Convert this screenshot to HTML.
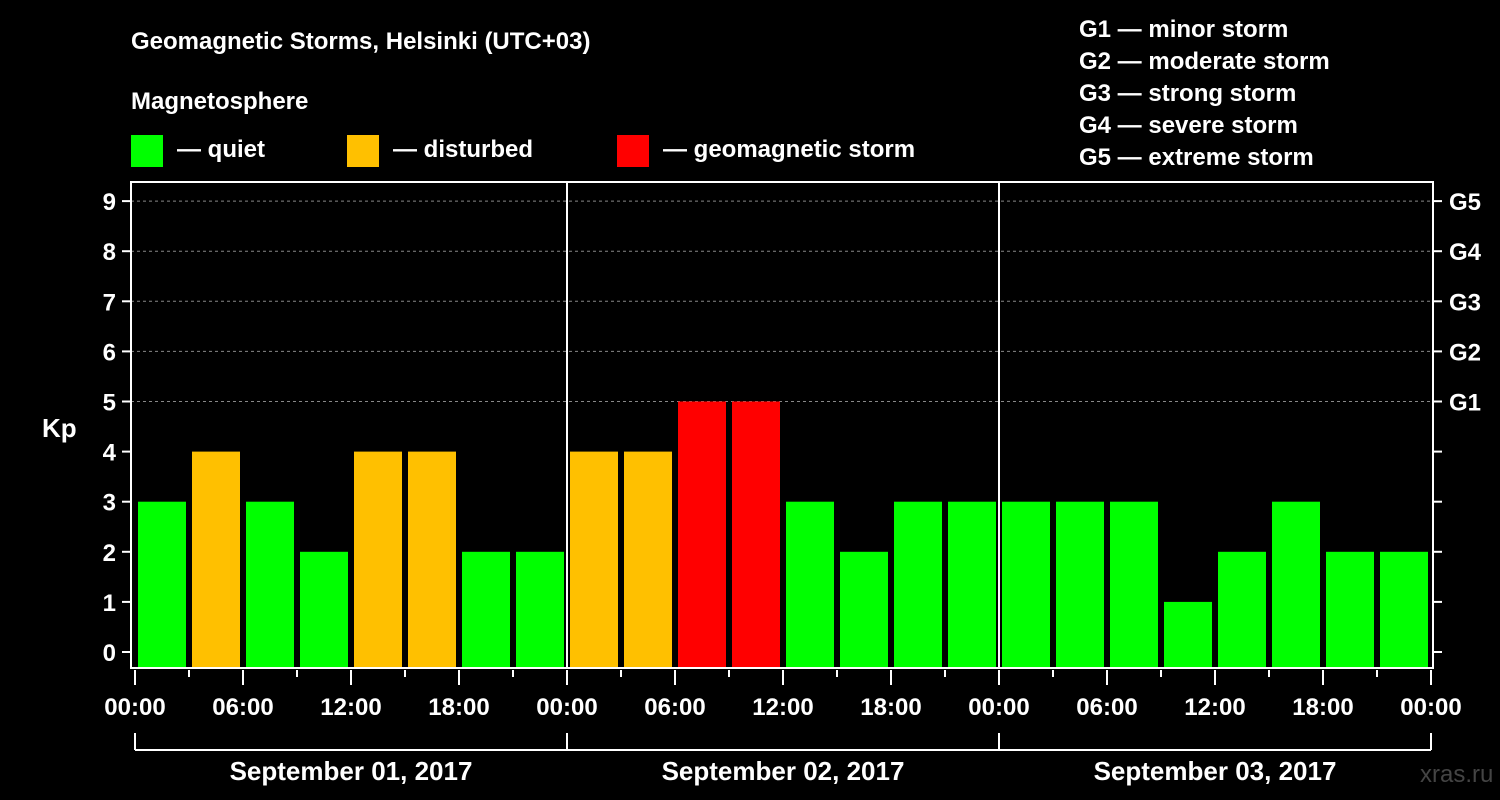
<!DOCTYPE html>
<html><head><meta charset="utf-8"><style>
html,body{margin:0;padding:0;background:#000;}
svg{display:block;font-family:"Liberation Sans",Arial,sans-serif;font-weight:bold;}
</style></head><body>
<svg id="chart" width="1500" height="800" viewBox="0 0 1500 800">
<rect width="1500" height="800" fill="#000"/>
<text x="131" y="49" fill="#fff" font-size="24">Geomagnetic Storms, Helsinki (UTC+03)</text>
<text x="131" y="109" fill="#fff" font-size="24">Magnetosphere</text>
<g><rect x="131" y="135" width="32" height="32" fill="#00ff00"/><text x="177" y="157" fill="#fff" font-size="24">— quiet</text></g>
<g><rect x="347" y="135" width="32" height="32" fill="#ffc000"/><text x="393" y="157" fill="#fff" font-size="24">— disturbed</text></g>
<g><rect x="617" y="135" width="32" height="32" fill="#ff0000"/><text x="663" y="157" fill="#fff" font-size="24">— geomagnetic storm</text></g>
<g fill="#fff" font-size="24">
<text x="1079" y="37">G1 — minor storm</text>
<text x="1079" y="69">G2 — moderate storm</text>
<text x="1079" y="101">G3 — strong storm</text>
<text x="1079" y="133">G4 — severe storm</text>
<text x="1079" y="165">G5 — extreme storm</text>
</g>
<text x="42" y="437" fill="#fff" font-size="26">Kp</text>
<text x="1420" y="782" fill="#444" font-size="24" font-weight="normal">xras.ru</text>
<g id="plot"></g>
</svg>
<script>
const values = [3,4,3,2,4,4,2,2, 4,4,5,5,3,2,3,3, 3,3,3,1,2,3,2,2];
const yTicks = [0,1,2,3,4,5,6,7,8,9];
const gLabels = ["G1","G2","G3","G4","G5"];
const gLevels = [5,6,7,8,9];
const timeLabels = ["00:00","06:00","12:00","18:00"];
const dayLabels = ["September 01, 2017","September 02, 2017","September 03, 2017"];

const NS = "http://www.w3.org/2000/svg";
const g = document.getElementById("plot");
const X0 = 135, DAY = 432, L = 131, R = 1433, T = 182, B = 668;
const xs = h => X0 + h / 24 * DAY;
const ys = v => 652 - v * 50.1;
function mk(tag, attrs, parent) {
  const e = document.createElementNS(NS, tag);
  for (const k in attrs) e.setAttribute(k, attrs[k]);
  (parent || g).appendChild(e);
  return e;
}
// grid
gLevels.forEach(v => {
  const l = mk("line", {x1: L, x2: R, y1: ys(v), y2: ys(v), stroke: "#888", "stroke-width": 1, "stroke-dasharray": "3,3"});
  
  
});
// bars
values.forEach((v, i) => {
  const col = v >= 5 ? "#ff0000" : (v >= 4 ? "#ffc000" : "#00ff00");
  const b = mk("rect", {x: xs(i * 3) + 3, y: ys(v), width: 48, height: 667 - ys(v), fill: col});
  
  
});
// frame
const fr = mk("rect", {x: L, y: T, width: R - L, height: B - T, fill: "none", stroke: "#fff", "stroke-width": 2});


for (let d = 1; d < 3; d++) {
  const s = mk("line", {x1: xs(d * 24), x2: xs(d * 24), y1: T, y2: B, stroke: "#fff", "stroke-width": 2});
  
  
}
// y ticks
yTicks.forEach(v => {
  mk("line", {x1: 122, x2: L, y1: ys(v), y2: ys(v), stroke: "#fff", "stroke-width": 2});
  mk("line", {x1: R, x2: 1442, y1: ys(v), y2: ys(v), stroke: "#fff", "stroke-width": 2});
  const t = mk("text", {x: 116, y: ys(v) + 9, fill: "#fff", "font-size": 24, "text-anchor": "end"});
  t.textContent = v;
  
  
});
gLabels.forEach((s, i) => {
  const t = mk("text", {x: 1449, y: ys(gLevels[i]) + 9, fill: "#fff", "font-size": 24});
  t.textContent = s;
  
  
});
// x ticks
for (let h = 0; h <= 72; h += 3) {
  const major = h % 6 === 0;
  mk("line", {x1: xs(h), x2: xs(h), y1: 670, y2: major ? 685 : 677, stroke: "#fff", "stroke-width": 2});
  if (major) {
    const t = mk("text", {x: xs(h), y: 715, fill: "#fff", "font-size": 24, "text-anchor": "middle"});
    t.textContent = timeLabels[(h / 6) % 4];
    
    
  }
}
// day brackets
mk("line", {x1: xs(0), x2: xs(72), y1: 750, y2: 750, stroke: "#fff", "stroke-width": 2});
for (let d = 0; d <= 3; d++) mk("line", {x1: xs(d * 24), x2: xs(d * 24), y1: 733, y2: 750, stroke: "#fff", "stroke-width": 2});
dayLabels.forEach((s, d) => {
  const t = mk("text", {x: xs(d * 24 + 12), y: 780, fill: "#fff", "font-size": 26, "text-anchor": "middle"});
  t.textContent = s;
  
  
});
</script>
</body></html>
